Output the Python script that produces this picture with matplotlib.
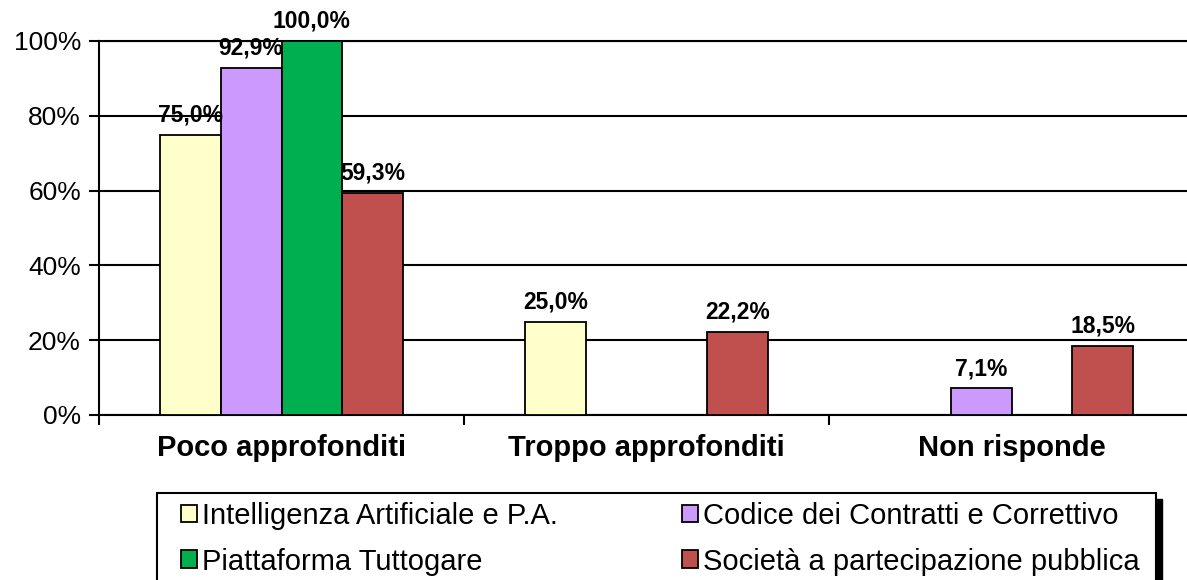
import matplotlib
matplotlib.use("Agg")
import matplotlib.pyplot as plt
from matplotlib.patches import Rectangle
from matplotlib.ticker import FixedLocator, FuncFormatter
import numpy as np

categories = ["Poco approfonditi", "Troppo approfonditi", "Non risponde"]
series_names = ["Intelligenza Artificiale e P.A.", "Codice dei Contratti e Correttivo",
                "Piattaforma Tuttogare", "Società a partecipazione pubblica"]
ia_pa = [75.0, 25.0, 0.0]
codice = [92.9, 0.0, 7.1]
tuttogare = [100.0, 0.0, 0.0]
societa = [59.3, 22.2, 18.5]
series_values = [ia_pa, codice, tuttogare, societa]
colors = ["#FFFFCC", "#CC99FF", "#00B050", "#C0504D"]
yticks = [0, 20, 40, 60, 80, 100]

plt.rcParams['font.family'] = ['Liberation Sans', 'DejaVu Sans']

W, H = 1187, 580
fig = plt.figure(figsize=(W / 100, H / 100), dpi=100)
ax = fig.add_axes([99 / W, 1 - 415 / H, (W - 99) / W, (415 - 41) / H])

x = np.arange(len(categories))
bw = 1 / 6
handles = []
for i, (vals, col) in enumerate(zip(series_values, colors)):
    bars = ax.bar(x + (i - 1.5) * bw, vals, width=bw, color=col,
                  edgecolor="black", linewidth=1.3, zorder=3, label=series_names[i])
    handles.append(bars)
    labels = [(f"{v:.1f}%".replace(".", ",") if v > 0 else "") for v in vals]
    ax.bar_label(bars, labels=labels, padding=6, fontsize=16.5, fontweight="bold", zorder=4)

ax.set_xlim(-0.5, -0.5 + (W - 99) / 365)
ax.set_ylim(0, 100)
ax.set_yticks(yticks)
ax.yaxis.set_major_formatter(FuncFormatter(lambda v, p: f"{int(v)}%"))
ax.tick_params(axis="y", length=7, width=1.5, pad=6, labelsize=19, direction="out")
ax.set_xticks(x)
ax.set_xticklabels(categories, fontsize=21, fontweight="bold")
ax.xaxis.set_minor_locator(FixedLocator([-0.5, 0.5, 1.5]))
ax.tick_params(axis="x", which="major", length=0, pad=14)
ax.tick_params(axis="x", which="minor", length=7, width=1.5, direction="out")
ax.yaxis.grid(True, color="black", linewidth=1.5)
ax.set_axisbelow(True)
ax.spines["right"].set_visible(False)
for s in ["left", "bottom", "top"]:
    ax.spines[s].set_linewidth(1.5)
    ax.spines[s].set_color("black")

# legend frame with shadow
lx0, lx1, ly0 = 157, 1156, 493
fig.patches.append(Rectangle(((lx0 + 6) / W, -0.2), (lx1 - lx0) / W, 1 - (ly0 + 6) / H + 0.2,
                             transform=fig.transFigure, facecolor="black", edgecolor="black", zorder=1))
fig.patches.append(Rectangle((lx0 / W, -0.2), (lx1 - lx0) / W, 1 - ly0 / H + 0.2,
                             transform=fig.transFigure, facecolor="white", edgecolor="black",
                             linewidth=1.5, zorder=2))

common = dict(frameon=False, loc="upper left", fontsize=21, handlelength=0.55,
              handleheight=0.55, handletextpad=0.17, labelspacing=0.6, borderaxespad=0,
              borderpad=0)
leg1 = fig.legend([handles[0], handles[2]], [series_names[0], series_names[2]],
                  bbox_to_anchor=(181 / W, 1 - 502 / H), **common)
leg2 = fig.legend([handles[1], handles[3]], [series_names[1], series_names[3]],
                  bbox_to_anchor=(682 / W, 1 - 502 / H), **common)
for lg in (leg1, leg2):
    lg.set_zorder(5)
    for h in lg.legend_handles:
        h.set_edgecolor("black")
        h.set_linewidth(1.3)

fig.savefig("out.png", dpi=100)
